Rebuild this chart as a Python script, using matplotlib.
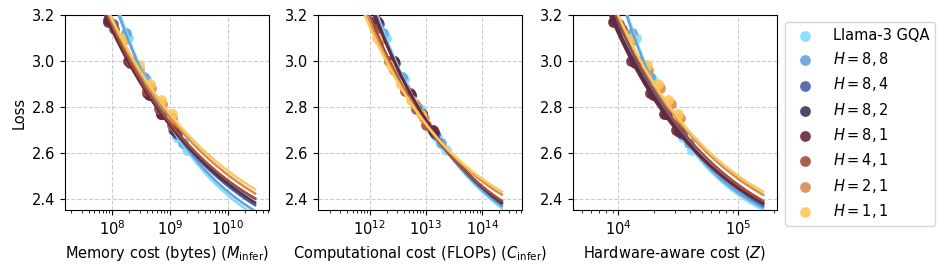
"""Loss vs. memory / compute / hardware-aware cost for GQA variants."""

import numpy as np
import matplotlib

matplotlib.use("Agg")
from matplotlib import pyplot as plt

SERIES = [
    "Llama-3 GQA",
    r"$H = 8, 8$",
    r"$H = 8, 4$",
    r"$H = 8, 2$",
    r"$H = 8, 1$",
    r"$H = 4, 1$",
    r"$H = 2, 1$",
    r"$H = 1, 1$",
]
COLORS = [
    "#7fdcff", "#62a3d8", "#4a5fa6", "#45305e",
    "#6c2739", "#a0503a", "#d98b4f", "#fdc85c",
]

# measured losses (shared by all three panels)
LOSS = [
    [3.10, 2.92, 2.79, 2.67, 2.61],
    [3.12, 2.93, 2.80, 2.70, 2.64],
    [3.16, 3.00, 2.85, 2.77, 2.68],
    [3.18, 2.99, 2.85, 2.77, 2.69],
    [3.17, 3.00, 2.86, 2.77, 2.70],
    [3.14, 3.00, 2.87, 2.79, 2.72],
    [3.09, 2.96, 2.88, 2.81, 2.75],
    [3.10, 2.98, 2.90, 2.83, 2.77],
]

# log10 of cost for each point
LOG_MEMORY = [
    [8.28, 8.58, 8.84, 9.12, 9.29],
    [8.24, 8.56, 8.82, 9.06, 9.23],
    [8.02, 8.32, 8.65, 8.86, 9.12],
    [7.93, 8.31, 8.64, 8.85, 9.10],
    [7.93, 8.27, 8.60, 8.85, 9.07],
    [8.03, 8.31, 8.61, 8.82, 9.03],
    [8.19, 8.47, 8.67, 8.86, 9.04],
    [8.20, 8.46, 8.66, 8.85, 9.03],
]
LOG_FLOPS = [
    [12.29, 12.61, 12.89, 13.19, 13.36],
    [12.24, 12.58, 12.85, 13.10, 13.27],
    [12.17, 12.44, 12.74, 12.93, 13.17],
    [12.12, 12.45, 12.74, 12.93, 13.14],
    [12.14, 12.43, 12.72, 12.93, 13.12],
    [12.10, 12.35, 12.63, 12.82, 13.01],
    [12.18, 12.44, 12.62, 12.80, 12.97],
    [12.13, 12.38, 12.56, 12.74, 12.91],
]
LOG_HW = [
    [4.15, 4.28, 4.40, 4.54, 4.62],
    [4.12, 4.27, 4.39, 4.51, 4.59],
    [4.01, 4.15, 4.31, 4.41, 4.53],
    [3.97, 4.14, 4.29, 4.40, 4.51],
    [3.96, 4.11, 4.27, 4.38, 4.48],
    [4.03, 4.16, 4.30, 4.40, 4.50],
    [4.12, 4.25, 4.35, 4.44, 4.52],
    [4.12, 4.24, 4.33, 4.42, 4.50],
]

# fitted power laws: L = E + A * (x / 10**pivot) ** -alpha
FIT_MEMORY = dict(pivot=9.0,
                  E=[2.085, 2.105, 2.075, 2.077, 2.127, 2.12, 2.121, 2.143],
                  A=[0.635, 0.62, 0.645, 0.643, 0.593, 0.61, 0.634, 0.627],
                  alpha=[0.285, 0.28, 0.23, 0.22, 0.23, 0.23, 0.22, 0.22])
FIT_FLOPS = dict(pivot=13.24,
                 E=[2.03, 2.05, 2.065, 2.075, 2.079, 2.108, 2.154, 2.179],
                 A=[0.62, 0.60, 0.59, 0.58, 0.578, 0.535, 0.498, 0.475],
                 alpha=[0.25] * 8)
FIT_HW = dict(pivot=4.45,
              E=[2.186, 2.191, 2.123, 2.128, 2.134, 2.13, 2.157, 2.175],
              A=[0.559, 0.557, 0.613, 0.603, 0.588, 0.623, 0.621, 0.611],
              alpha=[0.70, 0.68, 0.52, 0.50, 0.50, 0.50, 0.50, 0.50])

PANELS = [
    (LOG_MEMORY, FIT_MEMORY, (7.19, 10.71), 10.47,
     r"Memory cost (bytes) ($M_{\mathrm{infer}}$)"),
    (LOG_FLOPS, FIT_FLOPS, (11.08, 14.71), 14.35,
     r"Computational cost (FLOPs) ($C_{\mathrm{infer}}$)"),
    (LOG_HW, FIT_HW, (3.625, 5.325), 5.21,
     r"Hardware-aware cost ($Z$)"),
]

plt.rcParams["font.size"] = 10.5
fig = plt.figure(figsize=(9.46, 2.70), dpi=100)
W, H = 946, 270
lefts = [65, 318, 573]
axes = [fig.add_axes([l / W, 60 / H, 204 / W, 195 / H]) for l in lefts]

for ax, (logx, fit, xlim, xend, xlabel) in zip(axes, PANELS):
    ax.set_xscale("log")
    ax.grid(True, which="major", linestyle="--", color="#cccccc", linewidth=0.8)
    ax.set_axisbelow(True)
    for i, color in enumerate(COLORS):
        ax.scatter(10 ** np.array(logx[i]), LOSS[i], s=60, color=color,
                   alpha=0.9, linewidths=0, zorder=2, label=SERIES[i])
    for i, color in enumerate(COLORS):
        u = np.linspace(xlim[0], xend, 200)
        curve = fit["E"][i] + fit["A"][i] * 10 ** (-fit["alpha"][i] * (u - fit["pivot"]))
        ax.plot(10 ** u, curve, color=color, linewidth=1.8, zorder=3)
    ax.set_xlim(10 ** xlim[0], 10 ** xlim[1])
    ax.set_ylim(2.35, 3.2)
    ax.set_yticks([2.4, 2.6, 2.8, 3.0, 3.2])
    ax.set_xlabel(xlabel)

axes[0].set_ylabel("Loss")
handles, labels = axes[0].get_legend_handles_labels()
fig.legend(handles, labels, loc="upper left",
           bbox_to_anchor=(785 / W, 1 - 22 / H), borderaxespad=0,
           frameon=True, handletextpad=0.9, labelspacing=0.5)

fig.savefig("out.png", dpi=100)
